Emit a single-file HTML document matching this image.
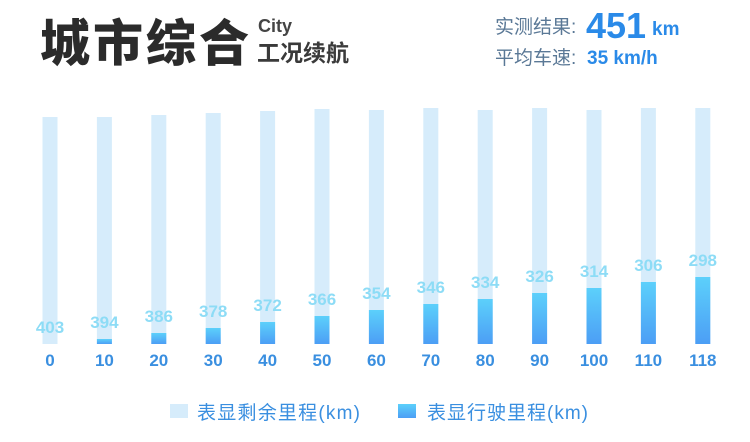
<!DOCTYPE html>
<html><head><meta charset="utf-8"><style>
body{margin:0;width:750px;height:442px;background:#fff;position:relative;overflow:hidden;font-family:"Liberation Sans","Noto Sans CJK SC",sans-serif}
.a{position:absolute;white-space:nowrap}
</style></head><body>
<div class="a" style="left:40px;top:10px;font-size:50px;font-weight:900;color:#2b2b2b;letter-spacing:3px;font-family:'Noto Sans CJK SC',sans-serif;line-height:60px">城市综合</div>
<div class="a" style="left:258px;top:16px;font-size:18px;font-weight:bold;color:#444;">City</div>
<div class="a" style="left:257px;top:39px;font-size:23px;color:#3a3a3a;font-weight:bold;line-height:28px">工况续航</div>
<div class="a" style="left:495px;top:15px;font-size:19px;color:#5a7896;line-height:26px">实测结果:</div>
<div class="a" style="left:586px;top:4px;font-size:36px;font-weight:bold;color:#2a8ae8;line-height:44px">451</div>
<div class="a" style="left:652px;top:17px;font-size:19px;font-weight:bold;color:#2a8ae8;line-height:26px">km</div>
<div class="a" style="left:495px;top:46px;font-size:19px;color:#5a7896;line-height:26px">平均车速:</div>
<div class="a" style="left:587px;top:46px;font-size:19px;font-weight:bold;color:#2a8ae8;line-height:26px">35 km/h</div>
<svg class="a" style="left:0;top:0" width="750" height="442">
<defs><linearGradient id="g" x1="0" y1="0" x2="0" y2="1"><stop offset="0" stop-color="#5cd0fb"/><stop offset="1" stop-color="#4c9ef5"/></linearGradient></defs>
<g id="bars"></g>
<rect x="170" y="404" width="18" height="14" fill="#d6ecfb"/>
<text x="197" y="419" font-size="19" fill="#3a8fe0" textLength="163" font-family="Liberation Sans,Noto Sans CJK SC,sans-serif">表显剩余里程(km)</text>
<rect x="398" y="404" width="18" height="14" fill="url(#g)"/>
<text x="427" y="419" font-size="19" fill="#3a8fe0" textLength="161" font-family="Liberation Sans,Noto Sans CJK SC,sans-serif">表显行驶里程(km)</text>
</svg>
<script>
var xs=[0,10,20,30,40,50,60,70,80,90,100,110,118],vals=[403,394,386,378,372,366,354,346,334,326,314,306,298],
lt=[117,117,115,113,111,109,110,108,110,108,110,108,108],dt=[344,339,333,328,322,316,310,304,299,293,288,282,277];
var s='';for(var i=0;i<13;i++){var c=50+i*54.4;
s+='<rect x="'+(c-7.5)+'" y="'+lt[i]+'" width="15" height="'+(344-lt[i])+'" fill="#d6ecfb"/>';
if(i>0)s+='<rect x="'+(c-7.5)+'" y="'+dt[i]+'" width="15" height="'+(344-dt[i])+'" fill="url(#g)"/>';
s+='<text x="'+c+'" y="'+(dt[i]-11)+'" text-anchor="middle" font-size="17" font-weight="bold" fill="#8ddcf6" font-family="Liberation Sans,sans-serif">'+vals[i]+'</text>';
s+='<text x="'+c+'" y="366" text-anchor="middle" font-size="17" font-weight="bold" fill="#3a8fe0" font-family="Liberation Sans,sans-serif">'+xs[i]+'</text>';}
document.getElementById('bars').innerHTML=s;
</script>
</body></html>
